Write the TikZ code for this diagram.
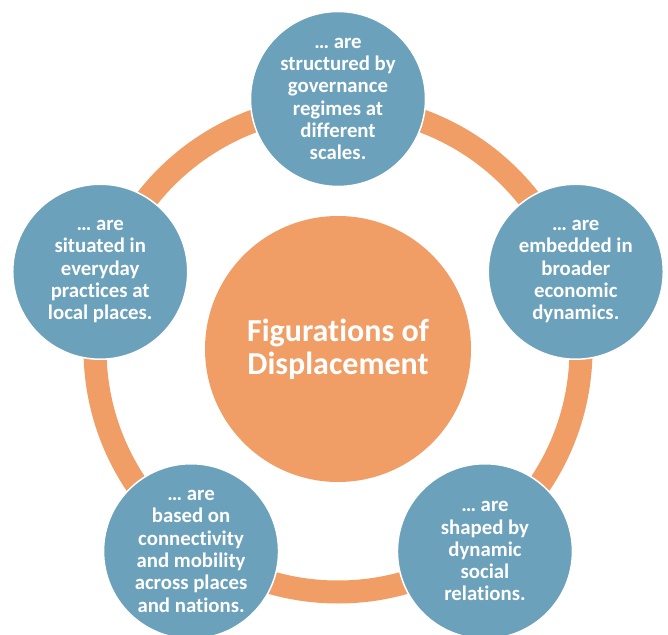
\documentclass[tikz,border=0pt]{standalone}
\usepackage{fontspec}
\setmainfont{Carlito}[Ligatures=NoCommon]
\usepackage{tikz}

\definecolor{ringorange}{RGB}{241,157,102}
\definecolor{petalblue}{RGB}{107,161,187}

\tikzset{
  hub/.style={circle,fill=ringorange,text=white,minimum size=266pt,inner sep=0pt,
    align=center,font=\bfseries\fontsize{32}{33}\selectfont},
  petal/.style={circle,fill=petalblue,draw=white,line width=1.5pt,text=white,
    minimum size=175pt,inner sep=0pt,align=center,font=\bfseries\fontsize{20.8}{22.3}\selectfont}
}

\begin{document}
\begin{tikzpicture}[x=1pt,y=1pt]
\useasboundingbox (0,0) rectangle (668,634);
\clip (0,0) rectangle (668,634);
\node [hub] (hub) at (338,285) {Figurations of\\Displacement};
% ring behind the outer circles
\draw [ringorange,line width=23pt] (hub.center) circle (243pt);
\node [petal] (gov) at ([shift={(90:250)}]hub.center) {\dots\ are\\structured by\\governance\\regimes at\\different\\scales.};
\node [petal] (econ) at ([shift={(18:250)}]hub.center) {\dots\ are\\embedded in\\broader\\economic\\dynamics.};
\node [petal] (social) at ([shift={(-54:250)}]hub.center) {\dots\ are\\shaped by\\dynamic\\social\\relations.};
\node [petal] (mobil) at ([shift={(-126:250)}]hub.center) {\dots\ are\\based on\\connectivity\\and mobility\\across places\\and nations.};
\node [petal] (local) at ([shift={(162:250)}]hub.center) {\dots\ are\\situated in\\everyday\\practices at\\local places.};
\end{tikzpicture}
\end{document}
